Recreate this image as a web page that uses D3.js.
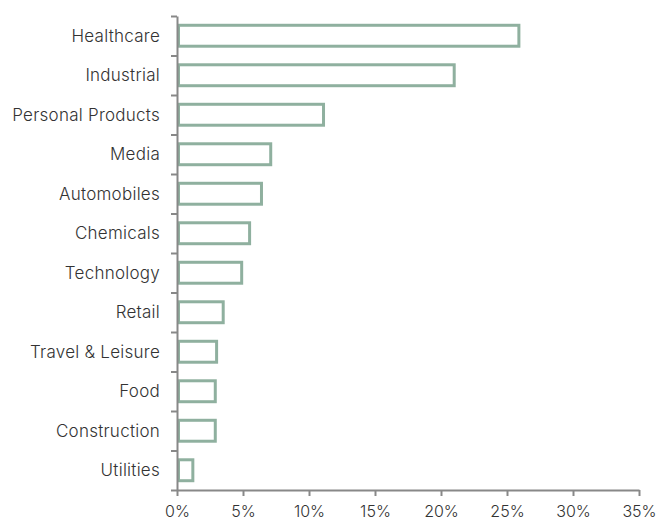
<!DOCTYPE html>
<html lang="en">
<head>
    <meta charset="UTF-8">
    <title>Sector weights</title>
    <script src="https://d3js.org/d3.v7.min.js"></script>
    <style>
        body { margin: 0; background: #fff; }
        text { font-family: Inter, 'Liberation Sans', Arial, sans-serif; font-weight: 300; fill: #333; }
    </style>
</head>
<body>
<script>
    // data
    const sectors = ["Healthcare", "Industrial", "Personal Products", "Media", "Automobiles",
        "Chemicals", "Technology", "Retail", "Travel & Leisure", "Food", "Construction", "Utilities"];
    const weights = [25.9, 21.0, 11.1, 7.1, 6.4, 5.5, 4.9, 3.5, 3.0, 2.9, 2.9, 1.2];
    const xTicks = [0, 5, 10, 15, 20, 25, 30, 35];

    var width = 661, height = 523;
    var margin = { top: 16, right: 22, bottom: 33, left: 177 };

    var svg = d3.select("body").append("svg")
        .attr("width", width)
        .attr("height", height);

    var x = d3.scaleLinear().domain([0, 35]).range([margin.left, width - margin.right]);
    var y = d3.scaleBand().domain(sectors)
        .range([margin.top, height - margin.bottom])
        .paddingInner(0.47).paddingOuter(0.235);

    // bars
    svg.append("g")
        .selectAll("rect")
        .data(sectors)
        .join("rect")
        .attr("x", x(0) + 1.5)
        .attr("y", d => y(d))
        .attr("width", (d, i) => x(weights[i]) - x(0) - 1.5)
        .attr("height", y.bandwidth())
        .attr("fill", "#fff")
        .attr("stroke", "#8fb09f")
        .attr("stroke-width", 3);

    // x axis
    var gx = svg.append("g")
        .attr("transform", "translate(0," + (height - margin.bottom) + ")")
        .call(d3.axisBottom(x).tickValues(xTicks).tickFormat(d => d + "%").tickSize(6).tickSizeOuter(0));
    gx.attr("font-family", null);
    gx.selectAll("text").attr("font-size", 16).attr("dy", "1.15em").attr("fill", "#333");

    // y axis: ticks at band boundaries, labels centred
    var yb = d3.scaleLinear().domain([0, sectors.length]).range([margin.top, height - margin.bottom]);
    svg.append("g")
        .attr("transform", "translate(" + x(0) + ",0)")
        .call(d3.axisLeft(yb).ticks(sectors.length).tickFormat("").tickSize(6).tickSizeOuter(0));

    svg.append("g")
        .selectAll("text")
        .data(sectors)
        .join("text")
        .attr("x", x(0) - 17)
        .attr("y", d => y(d) + y.bandwidth() / 2)
        .attr("dy", "0.36em")
        .attr("text-anchor", "end")
        .attr("font-size", 17)
        .attr("letter-spacing", 0.25)
        .text(d => d);

    svg.selectAll(".domain, .tick line").attr("stroke", "#888").attr("stroke-width", 2);
</script>
</body>
</html>
